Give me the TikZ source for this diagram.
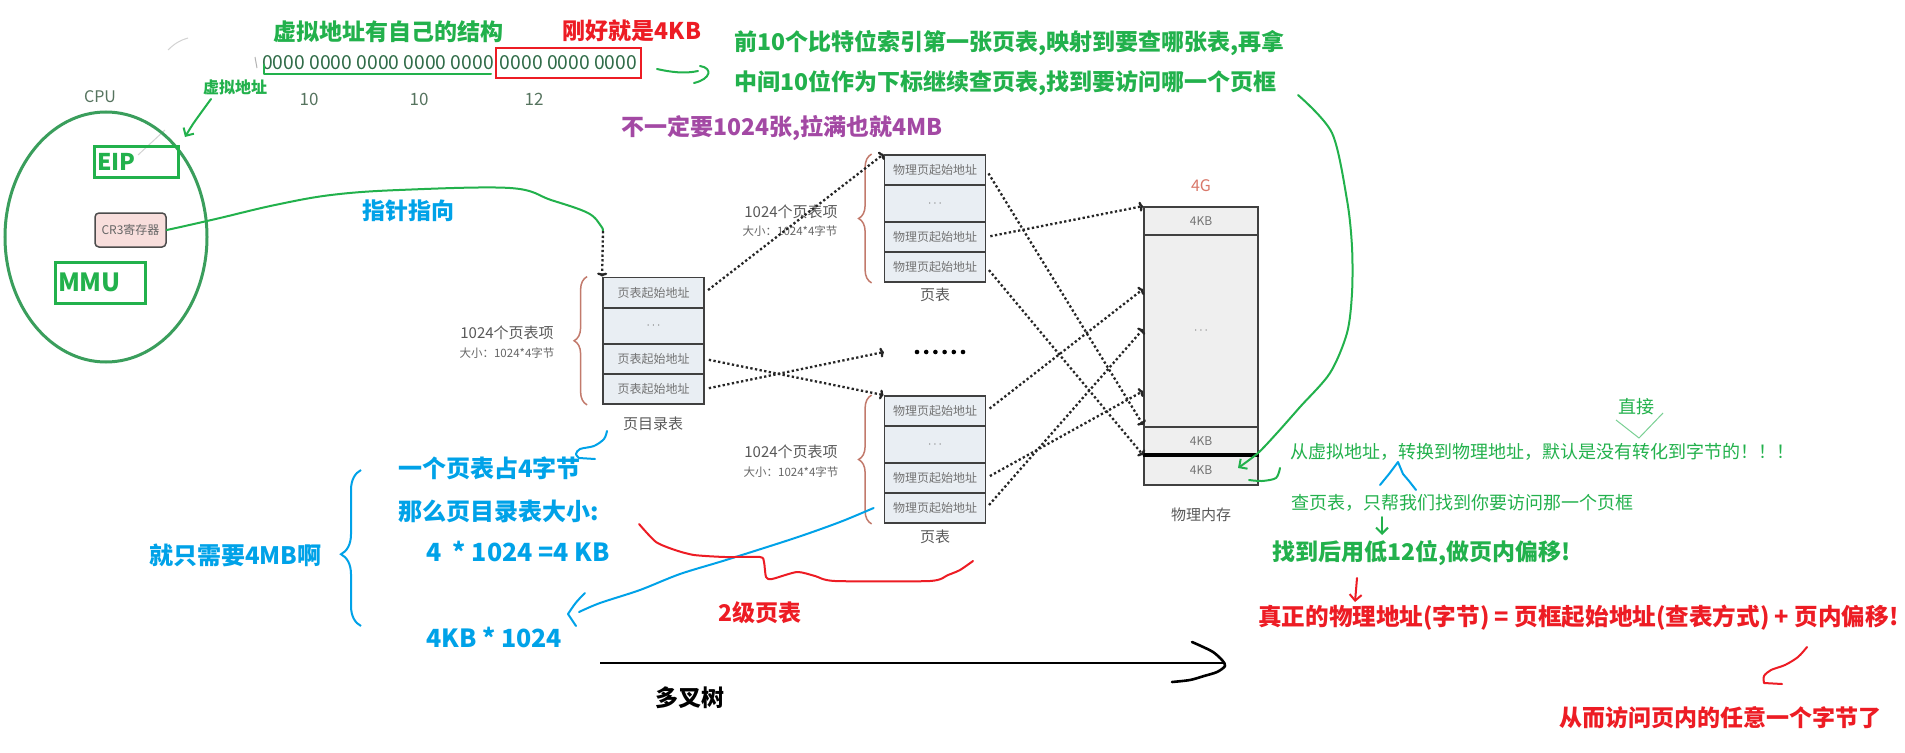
\documentclass[tikz,border=0pt]{standalone}
\usepackage{fontspec}
\setmainfont{Noto Sans CJK SC}
\usetikzlibrary{arrows.meta,decorations.pathreplacing}

\definecolor{pgreen}{HTML}{22B14C}
\definecolor{pblue}{HTML}{00A2E8}
\definecolor{pred}{HTML}{ED1C24}
\definecolor{ppurple}{HTML}{A349A4}
\definecolor{cpugreen}{HTML}{3A9E5C}
\definecolor{bitgreen}{HTML}{2F6B47}
\definecolor{dimgreen}{HTML}{56745F}
\definecolor{tblfill}{HTML}{E9EEF3}
\definecolor{memfill}{HTML}{EFEFEF}
\definecolor{bracecol}{HTML}{C27A6C}
\definecolor{crfill}{HTML}{F8DEDC}
\definecolor{gbcol}{HTML}{D9786A}

\tikzset{
  cell/.style={draw=black!75, line width=1.8pt, fill=tblfill, inner sep=0pt,
    minimum width=101pt, minimum height=30pt, text=black!55,
    font=\fontsize{12}{14}\selectfont},
  memcell/.style={cell, fill=memfill, minimum width=114pt},
  lbl/.style={text=black!65, inner sep=0pt, font=\fontsize{15}{18}\selectfont},
  lblsmall/.style={text=black!60, inner sep=0pt, font=\fontsize{11.5}{14}\selectfont},
  bits/.style={text=bitgreen, inner sep=0pt, font=\fontsize{19.3}{22}\selectfont},
  dim/.style={text=dimgreen, inner sep=0pt, font=\fontsize{17}{20}\selectfont},
  ptr/.style={black!85, line width=2.3pt, dash pattern=on 2.3pt off 2.4pt,
    -{To[length=4pt,width=10pt]}},
  hand/.style={line width=2.4pt, line cap=round, line join=round},
  say/.style={inner sep=0pt, font=\bfseries\fontsize{23}{27}\selectfont},
  remark/.style={inner sep=0pt, text=pgreen, font=\fontsize{18}{22}\selectfont},
  tblbrace/.style={draw=bracecol, line width=1.5pt, decorate,
    decoration={brace, amplitude=13pt}},
  barb/.style={-{Straight Barb[length=6pt,width=12pt]}},
}
\newcommand{\rowdots}{$\cdots$}

\begin{document}
\begin{tikzpicture}[x=1pt,y=1pt,yscale=-1]
\fill[white, use as bounding box] (0,0) rectangle (1905,752);

% faint marks of the screenshot
\draw[gray!35, line width=1pt] (168,50) .. controls (175,43) and (181,40) .. (188,38);
\draw[gray!35, line width=1pt] (165,130) -- (138,155);
\draw[gray!60, line width=1pt] (255,57) -- (257,68);

% Text Node
\node[say, text=pgreen] (vtitle) at (388,32) {虚拟地址有自己的结构};
% Text Node
\node[say, text=pred] (justkb) at (632,31) {刚好就是4KB};
% Text Node
\node[bits, anchor=east] (bitsA) at (494,63) {0000 0000 0000 0000 0000};
\node[bits, draw=pred, line width=2.4pt, minimum width=145pt, minimum height=30pt] (bitsB) at (568.5,63) {0000 0000 0000};
\draw[hand, pgreen, line width=2pt] (264,65) -- (264,74) -- (491,74);
% Text Node
\node[inner sep=0pt, text=pgreen, font=\bfseries\fontsize{16}{18}\selectfont] (vaddr) at (235,87) {虚拟地址};
\node[dim] (ten1) at (309,99) {10};
\node[dim] (ten2) at (419,99) {10};
\node[dim] (twelve) at (534,99) {12};
\node[dim, font=\fontsize{16}{18}\selectfont] (cpu) at (100,97) {CPU};

%Shape: CPU ellipse
\draw[cpugreen, line width=3pt] (106,237) ellipse [x radius=101, y radius=125];
\node[draw=pgreen, line width=3pt, text=pgreen, minimum width=84pt, minimum height=31pt,
  text width=78pt, inner sep=3pt, align=left, font=\bfseries\fontsize{23}{26}\selectfont] (eip) at (136,161.5) {EIP};
\node[draw=black!70, line width=1.5pt, fill=crfill, rounded corners=4pt, minimum width=71pt,
  minimum height=34pt, inner sep=0pt, text=black!60, font=\fontsize{12}{14}\selectfont] (cr3) at (130.5,230) {CR3寄存器};
\node[draw=pgreen, line width=3pt, text=pgreen, minimum width=90pt, minimum height=41pt,
  text width=84pt, inner sep=3pt, align=left, font=\bfseries\fontsize{25}{28}\selectfont] (mmu) at (100,282.5) {MMU};
\draw[hand, pgreen, line width=2pt, barb] plot[smooth] coordinates {(211,99) (203,110) (193,124) (185,137)};

% pointer from CR3
\node[say, text=pblue] (pointto) at (408,211) {指针指向};
\coordinate (ptrbend) at (603,231);
\draw[hand, pgreen, line width=2pt] plot[smooth, tension=0.6] coordinates {(cr3.east) (185,226) (220,218) (275,205) (331,195) (399,190) (510,188) (551,200) (588,213) (601,226) (ptrbend)};

% page directory
\node[cell] (dirA) at (653.5,292.5) {页表起始地址};
\node[cell, minimum height=36pt] (dirB) at (653.5,326) {\rowdots};
\node[cell] (dirC) at (653.5,359) {页表起始地址};
\node[cell] (dirD) at (653.5,389) {页表起始地址};
\node[lbl] (dirname) at (653,424) {页目录表};
\draw[tblbrace] ([xshift=-15pt]dirD.south west) -- ([xshift=-15pt]dirA.north west);
\node[lbl] (dircount) at (507,333) {1024个页表项};
\node[lblsmall] (dirsize) at (507,353) {大小：1024*4字节};
\draw[ptr] (ptrbend) -- (dirA.north west);

% upper page table
\node[cell] (ptUa) at (935,170) {物理页起始地址};
\node[cell, minimum height=37pt] (ptUb) at (935,203.5) {\rowdots};
\node[cell] (ptUc) at (935,237) {物理页起始地址};
\node[cell] (ptUd) at (935,267) {物理页起始地址};
\node[lbl] (ptUname) at (935,295) {页表};
\draw[tblbrace] ([xshift=-12pt]ptUd.south west) -- ([xshift=-12pt]ptUa.north west);
\node[lbl] (ptUcount) at (791,212) {1024个页表项};
\node[lblsmall] (ptUsize) at (790,231) {大小：1024*4字节};

% lower page table
\node[cell] (ptDa) at (935,411) {物理页起始地址};
\node[cell, minimum height=37pt] (ptDb) at (935,444.5) {\rowdots};
\node[cell] (ptDc) at (935,478) {物理页起始地址};
\node[cell] (ptDd) at (935,508) {物理页起始地址};
\node[lbl] (ptDname) at (935,537) {页表};
\draw[tblbrace] ([xshift=-12pt]ptDd.south west) -- ([xshift=-12pt]ptDa.north west);
\node[lbl] (ptDcount) at (791,452) {1024个页表项};
\node[lblsmall] (ptDsize) at (791,472) {大小：1024*4字节};

% more tables
\coordinate (dotsL) at (884,352);
\foreach \i in {0,...,5} \fill (917+9.2*\i,352) circle (2.3);

% physical memory
\node[memcell, minimum height=28pt] (memA) at (1201,221) {4KB};
\node[memcell, minimum height=192pt] (memB) at (1201,331) {\rowdots};
\node[memcell, minimum height=29pt] (memC) at (1201,441.5) {4KB};
\node[memcell, minimum height=29pt] (memD) at (1201,470.5) {4KB};
\draw[line width=3.5pt] (memD.north west) -- (memD.north east);
\node[lbl, text=gbcol, font=\fontsize{16}{18}\selectfont] (fourg) at (1201,186) {4G};
\node[lbl] (memname) at (1201,515) {物理内存};

% dotted pointers
\draw[ptr, shorten <=4pt] (dirA.east) -- (ptUa.north west);
\draw[ptr, shorten <=4pt] (dirC.east) -- (ptDa.north west);
\draw[ptr, shorten <=4pt] (dirD.east) -- (dotsL);
\draw[ptr, shorten <=4pt] (ptUa.east) -- ([yshift=-3pt]memB.south west);
\draw[ptr, shorten <=4pt] (ptUc.east) -- (memA.north west);
\draw[ptr, shorten <=4pt] (ptUd.east) -- (memD.north west);
\draw[ptr, shorten <=4pt] (ptDa.east) -- ([yshift=55pt]memB.north west);
\draw[ptr, shorten <=4pt] (ptDd.east) -- ([yshift=95pt]memB.north west);
\draw[ptr, shorten <=4pt] (ptDc.east) -- ([yshift=157pt]memB.north west);

% notes on the top
\draw[hand, pgreen, line width=2pt] (657,69) .. controls (670,72) and (685,74) .. (698,71);
\draw[hand, pgreen, line width=2pt] (700,66) .. controls (713,68) and (711,79) .. (694,83);
\node[say, text=pgreen, anchor=west] (firstten) at (734,43) {前10个比特位索引第一张页表,映射到要查哪张表,再拿};
\node[say, text=pgreen, anchor=west] (midten) at (734,83) {中间10位作为下标继续查页表,找到要访问哪一个页框};
\node[say, text=ppurple] (notall) at (782,128) {不一定要1024张,拉满也就4MB};
\coordinate (arcS) at (1298,95);
\coordinate (arcE) at (1238,468);
\draw[hand, pgreen, line width=2pt, barb] plot[smooth] coordinates {(arcS) (1332,133) (1347,200) (1352,247) (1352,293) (1347,333) (1330,373) (1300,407) (1277,433) (1258,453) (arcE)};
\draw[hand, pgreen, line width=2pt] plot[smooth] coordinates {(1249,480) (1262,481) (1276,478) (1280,468)};

% notes on the right
\node[remark, anchor=west] (nobyte) at (1290,452) {从虚拟地址，转换到物理地址，默认是没有转化到字节的！！！};
\node[remark] (direct) at (1636,407) {直接};
\draw[pgreen!60, line width=1pt] (1616,420) -- (1639,438) -- (1663,413);
\draw[hand, pblue, line width=2pt] plot coordinates {(1380,485) (1389,474) (1398,462) (1403,474) (1409,481) (1416,490)};
\node[remark, anchor=west] (lookup) at (1291,503) {查页表，只帮我们找到你要访问那一个页框};
\draw[hand, pgreen, line width=2pt, barb] (1382,517) -- (1382,535);
\node[say, text=pgreen, anchor=west] (lowtwelve) at (1272,553) {找到后用低12位,做页内偏移!};
\draw[hand, pred, line width=2pt, barb] (1357,578) -- (1355,602);
\node[say, text=pred, anchor=west, font=\bfseries\fontsize{23.6}{27}\selectfont] (realaddr) at (1258,618) {真正的物理地址(字节) = 页框起始地址(查表方式) + 页内偏移!};
\draw[hand, pred, line width=2pt] plot[smooth] coordinates {(1807,647) (1798,657) (1785,665) (1771,670) (1764,676) (1764,683)} -- (1782,684);
\node[say, text=pred] (anybyte) at (1720,718) {从而访问页内的任意一个字节了};

% notes on the left
\draw[hand, pblue, line width=2pt] plot[smooth] coordinates {(607,431) (604,439) (594,446) (580,449) (576,454) (579,458)} -- (595,459);
\node[say, text=pblue, font=\bfseries\fontsize{24}{28}\selectfont, anchor=west] (entry) at (398,468) {一个页表占4字节};
\node[say, text=pblue, font=\bfseries\fontsize{24}{28}\selectfont, anchor=west] (dirsz) at (398,511) {那么页目录表大小:};
\node[say, text=pblue, font=\bfseries\fontsize{25}{28}\selectfont, anchor=west] (calcA) at (426,551) {4 \ * 1024 =4 KB};
\node[say, text=pblue, font=\bfseries\fontsize{25}{28}\selectfont, anchor=west] (calcB) at (426,637) {4KB * 1024};
\node[say, text=pblue, font=\bfseries\fontsize{24}{28}\selectfont, anchor=west] (onlymb) at (149,555) {就只需要4MB啊};
\draw[pblue, line width=2pt, decorate, decoration={brace, amplitude=20pt, aspect=0.46}] (361,626) -- (361,470);
\draw[hand, pblue, line width=2pt] plot[smooth] coordinates {([xshift=-10pt]ptDd.west) (840,522) (795,538) (726,560) (680,574) (640,590) (600,603) (579,612)};
\draw[hand, pblue, line width=2pt] (585,593) .. controls (576,602) .. (568,614) -- (576,626);

% second level
\draw[hand, pred, line width=2pt] plot[smooth, tension=0.4] coordinates {(639,524) (656,542) (675,550) (694,555) (725,557) (760,557) (764,562) (766,577) (772,579) (797,572) (815,576) (835,581) (930,581) (948,575) (960,570) (973,561)};
\node[say, text=pred] (twolevel) at (760,613) {2级页表};

% tree arrow
\coordinate (treeS) at (600,663);
\coordinate (treeE) at (1225,663);
\draw[line width=2.6pt] (treeS) -- (treeE);
\draw[hand, line width=2.6pt] plot[smooth] coordinates {(1192,642) (1201,646) (1213,652) (1222,660) (1225,666) (1217,672) (1204,676) (1190,680) (1172,682)};
\node[say, text=black] (tree) at (690,698) {多叉树};

\end{tikzpicture}
\end{document}
